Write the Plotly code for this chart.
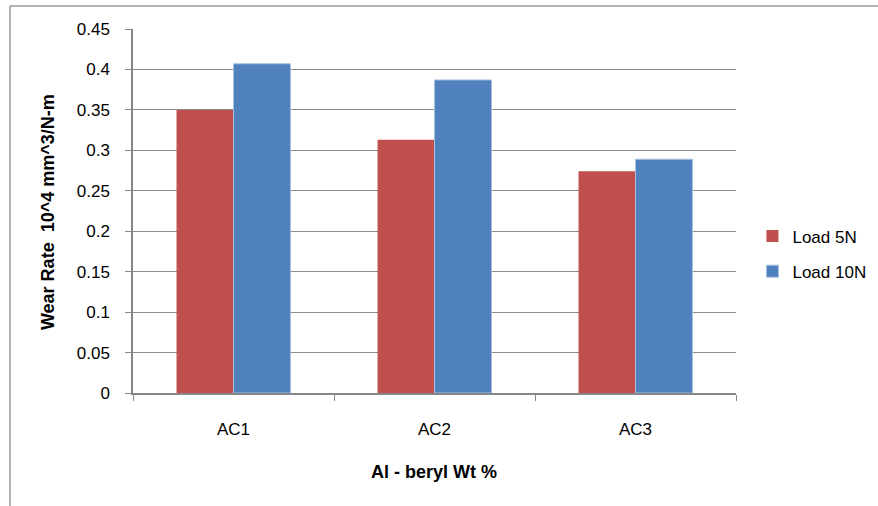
import plotly.graph_objects as go

# Wear rate of Al-beryl composites under two loads
categories = ["AC1", "AC2", "AC3"]
load_5n = [0.350, 0.313, 0.274]
load_10n = [0.407, 0.387, 0.289]
y_ticks = [0, 0.05, 0.1, 0.15, 0.2, 0.25, 0.3, 0.35, 0.4, 0.45]
y_tick_text = ["0", "0.05", "0.1", "0.15", "0.2", "0.25", "0.3", "0.35", "0.4", "0.45"]

FONT = "Liberation Sans, Arial, sans-serif"
AXIS_GRAY = "#868686"

fig = go.Figure()
fig.add_trace(go.Bar(x=categories, y=load_5n, name="Load 5N", legendgroup="5n",
                     marker=dict(color="#C0504D", line=dict(width=0))))
fig.add_trace(go.Bar(x=categories, y=load_10n, name="Load 10N", legendgroup="10n",
                     marker=dict(color="#4F81BD", line=dict(color="#A7BFE0", width=1))))

fig.update_layout(
    width=878, height=506,
    margin=dict(l=133, r=142, t=29, b=113, autoexpand=False),
    paper_bgcolor="white", plot_bgcolor="white",
    barmode="group", bargap=0.433, bargroupgap=0,
    font=dict(family=FONT, size=17, color="#000000"),
    legend=dict(xref="container", yref="container", x=0.857, y=0.498,
                xanchor="left", yanchor="middle",
                font=dict(size=17), tracegroupgap=10, itemwidth=30),
    xaxis=dict(showline=True, linecolor=AXIS_GRAY, linewidth=1.5,
               ticks="outside", tickson="boundaries", ticklen=6,
               tickcolor=AXIS_GRAY, tickfont=dict(size=17),
               ticklabelstandoff=20),
    yaxis=dict(range=[0, 0.45], tickvals=y_ticks, ticktext=y_tick_text,
               showline=True, linecolor=AXIS_GRAY, linewidth=1.5,
               ticks="outside", ticklen=6, tickcolor=AXIS_GRAY,
               showgrid=True, gridcolor="#8C8C8C", gridwidth=1,
               zeroline=False, tickfont=dict(size=17),
               ticklabelstandoff=12),
    annotations=[
        dict(text="<b>Wear Rate  10^4 mm^3/N-m</b>", xref="paper", yref="paper",
             x=-0.141, y=0.497, textangle=-90, showarrow=False,
             font=dict(size=18), xanchor="center", yanchor="middle"),
        dict(text="<b>Al - beryl Wt %</b>", xref="paper", yref="paper",
             x=0.499, y=-0.217, showarrow=False, font=dict(size=18),
             xanchor="center", yanchor="middle"),
    ],
    shapes=[
        dict(type="line", xref="paper", yref="paper", x0=-0.204, x1=-0.204,
             y0=-0.4, y1=1.063, line=dict(color="#9A9A9A", width=1.5)),
        dict(type="line", xref="paper", yref="paper", x0=-0.204, x1=1.3,
             y0=1.063, y1=1.063, line=dict(color="#9A9A9A", width=1.5)),
    ],
)

fig.write_html("out.html")
